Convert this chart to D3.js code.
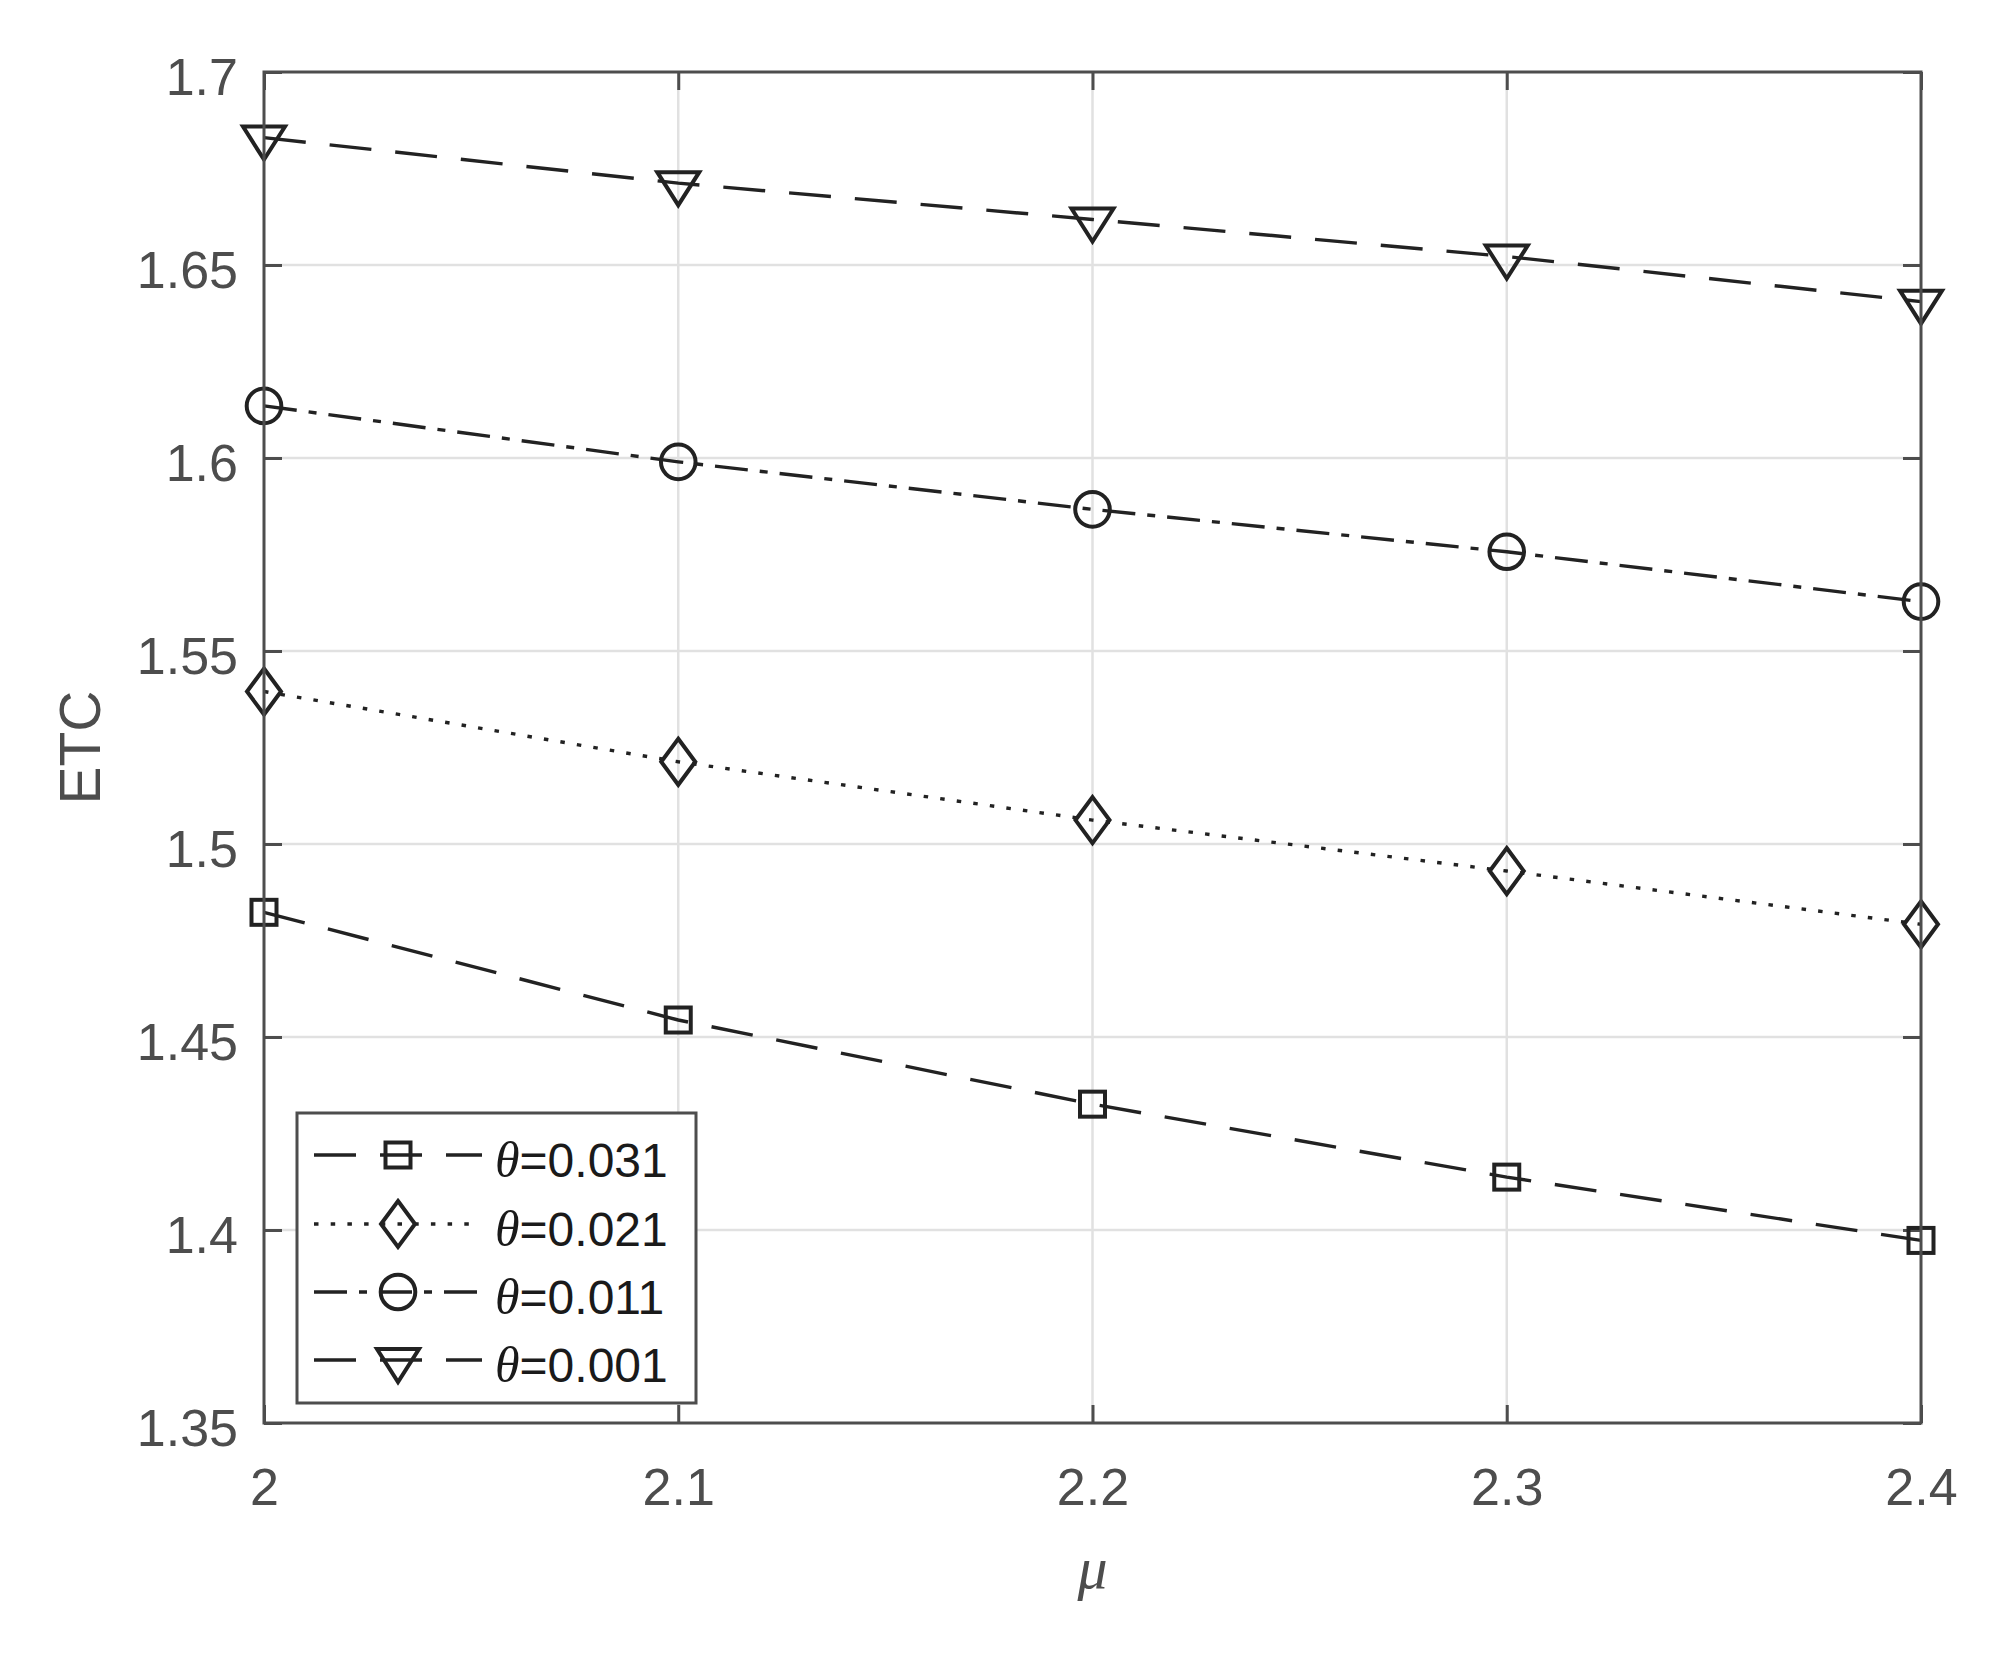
<!DOCTYPE html>
<html>
<head>
<meta charset="utf-8">
<script src="https://cdn.jsdelivr.net/npm/d3@7"></script>
<style>
  html, body { margin: 0; padding: 0; background: #fff; }
  svg { display: block; }
</style>
</head>
<body>
<script>
// ---- data ----
const muValues = [2.0, 2.1, 2.2, 2.3, 2.4];
const thetaLabels = ["0.031", "0.021", "0.011", "0.001"];
const etcTheta031 = [1.4823, 1.4544, 1.4326, 1.4137, 1.3973];
const etcTheta021 = [1.5395, 1.5213, 1.5062, 1.4930, 1.4792];
const etcTheta011 = [1.6135, 1.5990, 1.5867, 1.5757, 1.5628];
const etcTheta001 = [1.6830, 1.6712, 1.6618, 1.6522, 1.6405];
const xTickValues = [2.0, 2.1, 2.2, 2.3, 2.4];
const xTickLabels = ["2", "2.1", "2.2", "2.3", "2.4"];
const yTickValues = [1.35, 1.4, 1.45, 1.5, 1.55, 1.6, 1.65, 1.7];
const yTickLabels = ["1.35", "1.4", "1.45", "1.5", "1.55", "1.6", "1.65", "1.7"];
const xLabel = "μ";
const yLabel = "ETC";

const W = 2015, H = 1665;
const L = 264, R = 1921, T = 72, B = 1423;
const axisColor = "#4d4d4d";
const gridColor = "#e1e1e1";
const lineColor = "#222222";

const series = [
  { label: thetaLabels[0], values: etcTheta031, marker: "square",   dash: "42,24" },
  { label: thetaLabels[1], values: etcTheta021, marker: "diamond",  dash: "4.5,12.2" },
  { label: thetaLabels[2], values: etcTheta011, marker: "circle",   dash: "33,12,8,12" },
  { label: thetaLabels[3], values: etcTheta001, marker: "triangle", dash: "42,24" }
];

const svg = d3.select("body").append("svg").attr("width", W).attr("height", H);

const x = d3.scaleLinear().domain([2.0, 2.4]).range([L, R]);
const y = d3.scaleLinear().domain([1.35, 1.7]).range([B, T]);

// grid
const grid = svg.append("g");
grid.selectAll("line.gx").data(xTickValues.slice(1, -1)).enter().append("line")
  .attr("x1", d => x(d)).attr("x2", d => x(d)).attr("y1", T).attr("y2", B)
  .attr("stroke", gridColor).attr("stroke-width", 2.5);
grid.selectAll("line.gy").data(yTickValues.slice(1, -1)).enter().append("line")
  .attr("y1", d => y(d)).attr("y2", d => y(d)).attr("x1", L).attr("x2", R)
  .attr("stroke", gridColor).attr("stroke-width", 2.5);

// axes (D3 axes with inward ticks on all four sides)
const tickLen = 18;
function styleAxis(g) {
  g.selectAll("path").remove();
  g.selectAll("line").attr("stroke", axisColor).attr("stroke-width", 3);
}
const xAxisB = d3.axisBottom(x).tickValues(xTickValues).tickSize(-tickLen).tickFormat((d, i) => xTickLabels[i]);
const gxb = svg.append("g").attr("transform", `translate(0,${B})`).call(xAxisB);
styleAxis(gxb);
gxb.selectAll("text").attr("y", 82).attr("dy", null)
  .attr("font-family", "'Liberation Sans', Arial, sans-serif").attr("font-size", 52).attr("fill", axisColor);

const gxt = svg.append("g").attr("transform", `translate(0,${T})`)
  .call(d3.axisTop(x).tickValues(xTickValues).tickSize(-tickLen).tickFormat(""));
styleAxis(gxt);

const yAxisL = d3.axisLeft(y).tickValues(yTickValues).tickSize(-tickLen).tickFormat((d, i) => yTickLabels[i]);
const gyl = svg.append("g").attr("transform", `translate(${L},0)`).call(yAxisL);
styleAxis(gyl);
gyl.selectAll("text").attr("x", -26).attr("dy", 22)
  .attr("font-family", "'Liberation Sans', Arial, sans-serif").attr("font-size", 52).attr("fill", axisColor);

const gyr = svg.append("g").attr("transform", `translate(${R},0)`)
  .call(d3.axisRight(y).tickValues(yTickValues).tickSize(-tickLen).tickFormat(""));
styleAxis(gyr);

// marker drawing
function drawMarker(g, type, cx, cy) {
  const s = { stroke: lineColor, "stroke-width": 4, fill: "none" };
  let el;
  if (type === "square") {
    el = g.append("rect").attr("x", cx - 12.5).attr("y", cy - 12.5).attr("width", 25).attr("height", 25);
  } else if (type === "diamond") {
    el = g.append("path").attr("d", `M${cx},${cy - 23}L${cx + 17},${cy}L${cx},${cy + 23}L${cx - 17},${cy}Z`);
  } else if (type === "circle") {
    el = g.append("circle").attr("cx", cx).attr("cy", cy).attr("r", 17.3);
  } else {
    el = g.append("path").attr("d", `M${cx - 21},${cy - 11}L${cx + 21},${cy - 11}L${cx},${cy + 22}Z`);
  }
  Object.entries(s).forEach(([k, v]) => el.attr(k, v));
}

// series
const lineGen = d3.line().x((d, i) => x(muValues[i])).y(d => y(d));
const plot = svg.append("g");
series.forEach(s => {
  plot.append("path").datum(s.values).attr("d", lineGen)
    .attr("fill", "none").attr("stroke", lineColor).attr("stroke-width", 3.4)
    .attr("stroke-dasharray", s.dash);
  s.values.forEach((v, i) => drawMarker(plot, s.marker, x(muValues[i]), y(v)));
});

// box outline
svg.append("rect").attr("x", L).attr("y", T).attr("width", R - L).attr("height", B - T)
  .attr("fill", "none").attr("stroke", axisColor).attr("stroke-width", 3);

// axis labels
svg.append("text").attr("x", (L + R) / 2).attr("y", 1588).attr("text-anchor", "middle")
  .attr("font-family", "'Liberation Serif', 'Times New Roman', serif").attr("font-style", "italic")
  .attr("font-size", 60).attr("fill", axisColor).text(xLabel);
svg.append("text").attr("transform", `translate(100,${(T + B) / 2}) rotate(-90)`).attr("text-anchor", "middle")
  .attr("font-family", "'Liberation Sans', Arial, sans-serif").attr("font-size", 57)
  .attr("fill", axisColor).text(yLabel);

// legend
const lg = svg.append("g");
lg.append("rect").attr("x", 297).attr("y", 1113).attr("width", 399).attr("height", 290)
  .attr("fill", "#fff").attr("stroke", axisColor).attr("stroke-width", 3);
const rowY = [1155, 1224, 1292, 1360];
series.forEach((s, i) => {
  const ry = rowY[i];
  const x2 = s.marker === "diamond" ? 470 : 482;
  lg.append("line").attr("x1", 314).attr("x2", x2).attr("y1", ry).attr("y2", ry)
    .attr("stroke", lineColor).attr("stroke-width", 3.4).attr("stroke-dasharray", s.dash);
  drawMarker(lg, s.marker, 398, ry);
  const t = lg.append("text").attr("x", 495).attr("y", ry + 22)
    .attr("font-family", "'Liberation Sans', Arial, sans-serif").attr("font-size", 48).attr("fill", "#1a1a1a");
  t.append("tspan").attr("font-family", "'Liberation Serif', 'Times New Roman', serif")
    .attr("font-style", "italic").attr("font-size", 50).text("θ");
  t.append("tspan").text("=" + s.label);
});
</script>
</body>
</html>
